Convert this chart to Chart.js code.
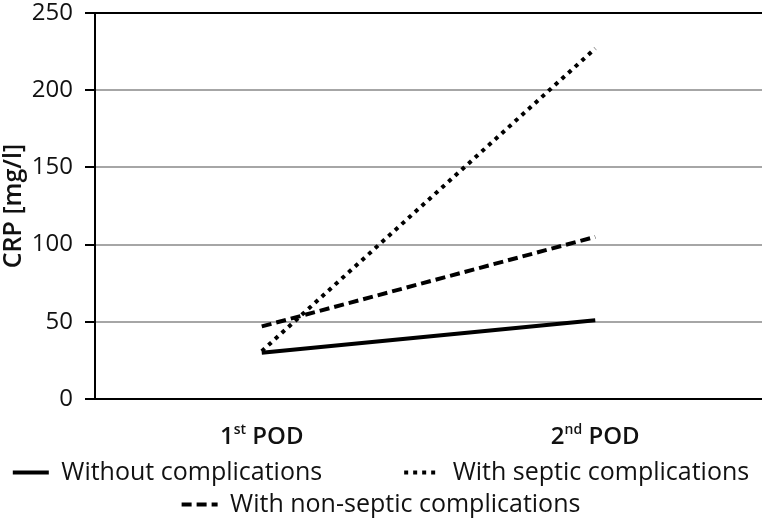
<!DOCTYPE html>
<html>
<head>
<meta charset="utf-8">
<script src="https://cdn.jsdelivr.net/npm/chart.js"></script>
<style>
  html, body { margin: 0; padding: 0; background: #fff; }
  .wrap { width: 762px; height: 523px; position: relative; }
</style>
</head>
<body>
<div class="wrap"><canvas id="crp"></canvas></div>
<script>
// CRP levels on postoperative days
const days = ['1st POD', '2nd POD'];
const withoutComplications = [30, 51];
const septicComplications = [31, 227];
const nonSepticComplications = [47, 105];
const yTicks = [0, 50, 100, 150, 200, 250];

const FONT = "'Open Sans', 'Noto Sans', sans-serif";

// draws "1st POD" with the ordinal suffix raised
const supLabels = {
  id: 'supLabels',
  afterDraw(chart) {
    const x = chart.scales.x;
    const ctx = chart.ctx;
    ctx.save();
    ctx.fillStyle = '#111';
    ctx.textBaseline = 'alphabetic';
    days.forEach((lab, i) => {
      const m = lab.match(/^(\d+)(st|nd|rd|th)(.*)$/);
      const big = '600 24px ' + FONT, small = '600 14px ' + FONT;
      ctx.font = big;
      const w1 = ctx.measureText(m[1]).width, w3 = ctx.measureText(m[3]).width;
      ctx.font = small;
      const w2 = ctx.measureText(m[2]).width;
      let cx = x.getPixelForTick(i) - (w1 + w2 + w3) / 2;
      const base = x.top + 45;
      ctx.font = big; ctx.fillText(m[1], cx, base); cx += w1;
      ctx.font = small; ctx.fillText(m[2], cx, base - 10); cx += w2;
      ctx.font = big; ctx.fillText(m[3], cx, base);
    });
    ctx.restore();
  }
};

new Chart(document.getElementById('crp'), {
  type: 'line',
  data: {
    labels: days,
    datasets: [
      { label: 'Without complications', data: withoutComplications, borderColor: '#000', borderWidth: 4, borderDash: [] },
      { label: 'With septic complications', data: septicComplications, borderColor: '#000', borderWidth: 4, borderDash: [4, 5] },
      { label: 'With non-septic complications', data: nonSepticComplications, borderColor: '#000', borderWidth: 4, borderDash: [10, 5] }
    ]
  },
  options: {
    responsive: true,
    maintainAspectRatio: false,
    animation: false,
    elements: { point: { radius: 0, hoverRadius: 0 }, line: { tension: 0, borderCapStyle: 'butt' } },
    layout: { padding: { left: 0, right: 0, top: 0, bottom: -4 } },
    scales: {
      x: {
        offset: true,
        grid: { display: false, drawTicks: false },
        border: { color: '#000', width: 2 },
        ticks: { color: 'rgba(0,0,0,0)', padding: 12, font: { family: FONT, size: 24, weight: '600' } },
        afterFit(axis) { axis.height = 54; }
      },
      y: {
        min: 0,
        max: 250,
        afterBuildTicks(axis) { axis.ticks = yTicks.map(v => ({ value: v })); },
        afterFit(axis) { axis.width = 95; axis.paddingTop = 13; axis.paddingBottom = 12; },
        grid: {
          color: c => (c.tick.value === 0 || c.tick.value === 250) ? '#000' : '#a6a6a6',
          lineWidth: 2,
          tickColor: '#000',
          tickLength: 10
        },
        border: { color: '#000', width: 2 },
        ticks: { color: '#111', padding: 12, font: { family: FONT, size: 24 } },
        title: { display: true, text: 'CRP [mg/l]', color: '#111', padding: { top: -1, bottom: 0 }, font: { family: FONT, size: 25, weight: '600' } }
      }
    },
    plugins: {
      tooltip: { enabled: false },
      legend: {
        position: 'bottom',
        labels: {
          usePointStyle: true,
          pointStyle: 'line',
          pointStyleWidth: 36,
          padding: 7,
          color: '#111',
          font: { family: FONT, size: 25 },
          generateLabels(chart) {
            const items = Chart.defaults.plugins.legend.labels.generateLabels(chart);
            items.forEach(it => {
              const ds = chart.data.datasets[it.datasetIndex];
              it.pointStyle = 'line';
              it.lineDash = ds.borderDash;
              it.lineWidth = 4;
              it.strokeStyle = '#000';
            });
            items[0].text += '\u2003\u2003\u2003';
            return items;
          }
        }
      }
    }
  },
  plugins: [supLabels]
});
</script>
</body>
</html>
